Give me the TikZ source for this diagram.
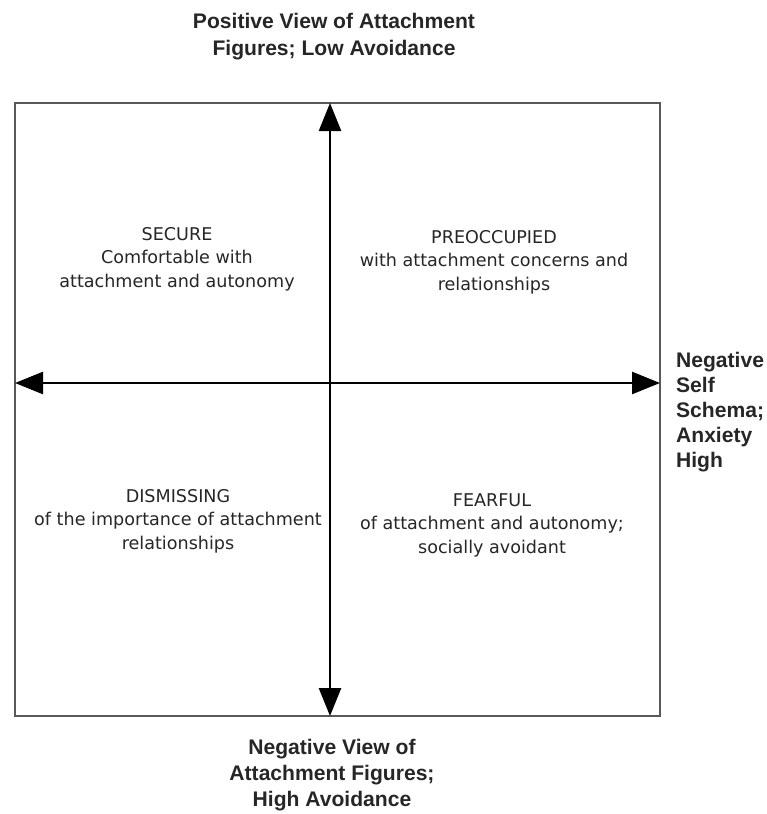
\documentclass[tikz,border=0pt]{standalone}
\usepackage{fontspec}
\setmainfont{Liberation Sans}
\newfontfamily\quadfont{DejaVu Sans}
\usetikzlibrary{arrows.meta}

\begin{document}
\begin{tikzpicture}[x=0.03cm, y=-0.03cm,
    axislabel/.style={font=\fontsize{18}{23}\selectfont\bfseries, align=center, text=black!85},
    quadtext/.style={font=\quadfont\fontsize{15}{20}\selectfont, align=center, text=black!85},
    axisline/.style={line width=2.2pt, {Triangle[length=8.4mm, width=6.6mm]}-{Triangle[length=8.4mm, width=6.6mm]}}]
    \useasboundingbox (0,0) rectangle (767,814);

    % frame of the four quadrants
    \draw [draw=black!65, line width=1.2pt] (15,103) rectangle (660,716);
    \coordinate (top) at (330,103);
    \coordinate (bottom) at (330,716);
    \coordinate (left) at (15,383);
    \coordinate (right) at (660,383);

    \draw [axisline] (bottom) -- (top);
    \draw [axisline] (left) -- (right);

    % axis labels
    \node [axislabel] (lowavoid) at (334,37) {Positive View of Attachment\\Figures; Low Avoidance};
    \node [axislabel, anchor=west, align=left, font=\fontsize{18}{21.3}\selectfont\bfseries] (highanx) at (672,412) {Negative\\Self\\Schema;\\Anxiety\\High};
    \node [axislabel, font=\fontsize{18}{22}\selectfont\bfseries] (highavoid) at (332,775) {Negative View of\\Attachment Figures;\\High Avoidance};

    % quadrants
    \node [quadtext] (secure) at (177,259) {SECURE\\Comfortable with\\attachment and autonomy};
    \node [quadtext] (preocc) at (494,262) {PREOCCUPIED\\with attachment concerns and\\relationships};
    \node [quadtext] (dismiss) at (178,521) {DISMISSING\\of the importance of attachment\\relationships};
    \node [quadtext] (fearful) at (492,525) {FEARFUL\\of attachment and autonomy;\\socially avoidant};
\end{tikzpicture}
\end{document}
